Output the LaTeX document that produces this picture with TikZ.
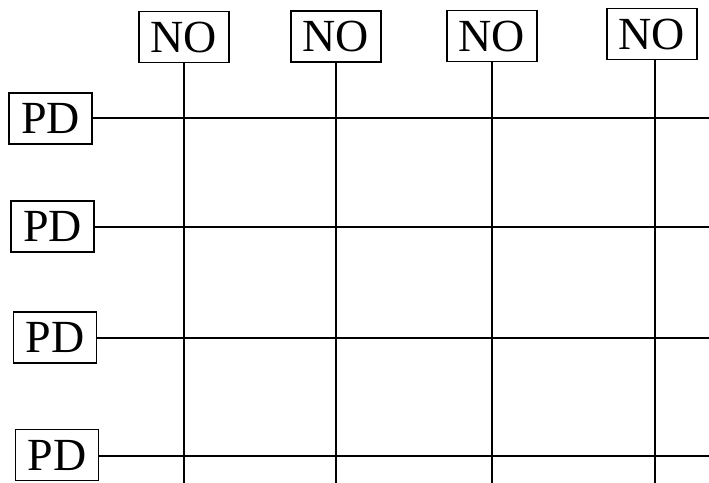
\documentclass[tikz,border=0pt]{standalone}
\usepackage{fontspec}
\setmainfont{Liberation Serif}
\begin{document}
\begin{tikzpicture}[x=0.5pt, y=-0.5pt]
		\tikzstyle{label} = [draw, line width=0.8pt, inner sep=0pt, minimum height=25.5pt, font=\fontsize{23}{27}\selectfont]
		\tikzstyle{no} = [label, minimum width=45pt]
		\tikzstyle{pd} = [label, minimum width=41.5pt]
		\tikzstyle{wire} = [line width=1pt]

		\useasboundingbox (0,0) rectangle (709,483);

		% Define the NO boxes along the top
		\node[no] (NO1) at (184,37) {NO};
		\node[no] (NO2) at (336,36.5) {NO};
		\node[no] (NO3) at (492,36) {NO};
		\node[no] (NO4) at (652,34) {NO};

		% Define the PD boxes along the left side
		\node[pd] (PD1) at (50.5,118.5) {PD};
		\node[pd] (PD2) at (52.5,226.5) {PD};
		\node[pd] (PD3) at (55,337.5) {PD};
		\node[pd] (PD4) at (57,455) {PD};

		% Free ends of the lines at the picture edges
		\coordinate (B1) at (184,483);
		\coordinate (B2) at (336,483);
		\coordinate (B3) at (492,483);
		\coordinate (B4) at (655,483);
		\coordinate (R1) at (709,118);
		\coordinate (R2) at (709,227);
		\coordinate (R3) at (709,338);
		\coordinate (R4) at (709,456);

		% Draw vertical lines down from the NO boxes
		\draw[wire] (NO1.south) -- (B1);
		\draw[wire] (NO2.south) -- (B2);
		\draw[wire] (NO3.south) -- (B3);
		\draw[wire] (NO4.south -| B4) -- (B4);

		% Draw horizontal lines out of the PD boxes
		\draw[wire] (PD1.east |- R1) -- (R1);
		\draw[wire] (PD2.east |- R2) -- (R2);
		\draw[wire] (PD3.east |- R3) -- (R3);
		\draw[wire] (PD4.east |- R4) -- (R4);

		\end{tikzpicture}
\end{document}
